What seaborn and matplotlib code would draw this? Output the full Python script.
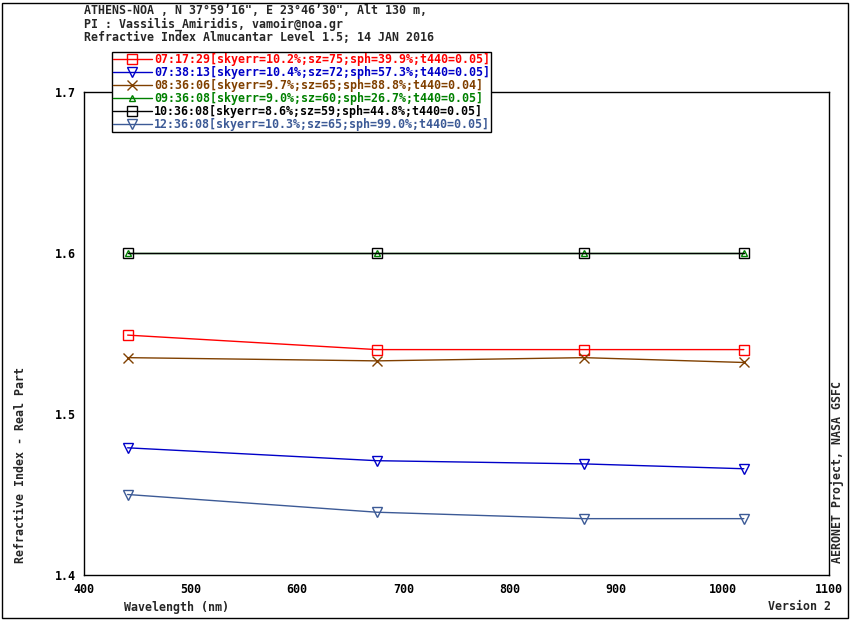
import matplotlib
matplotlib.use("Agg")
import matplotlib.pyplot as plt
import seaborn as sns
import pandas as pd
from matplotlib.patches import Rectangle

# wavelengths (nm)
wavelengths = [441, 675, 870, 1020]

# series labels and values (real part of refractive index)
labels = [
    "07:17:29[skyerr=10.2%;sz=75;sph=39.9%;t440=0.05]",
    "07:38:13[skyerr=10.4%;sz=72;sph=57.3%;t440=0.05]",
    "08:36:06[skyerr=9.7%;sz=65;sph=88.8%;t440=0.04]",
    "09:36:08[skyerr=9.0%;sz=60;sph=26.7%;t440=0.05]",
    "10:36:08[skyerr=8.6%;sz=59;sph=44.8%;t440=0.05]",
    "12:36:08[skyerr=10.3%;sz=65;sph=99.0%;t440=0.05]",
]
n_0717 = [1.549, 1.540, 1.540, 1.540]
n_0738 = [1.479, 1.471, 1.469, 1.466]
n_0836 = [1.535, 1.533, 1.535, 1.532]
n_0936 = [1.600, 1.600, 1.600, 1.600]
n_1036 = [1.600, 1.600, 1.600, 1.600]
n_1236 = [1.450, 1.439, 1.435, 1.435]
series = [n_0717, n_0738, n_0836, n_0936, n_1036, n_1236]

colors = ["#ff0000", "#0000c8", "#804000", "#008000", "#000000", "#3c5a96"]
markers = ["s", "v", "x", "^", "s", "v"]
msizes = [6.5, 6.5, 7, 4, 6.5, 6.5]

sns.set_style("white")
plt.rcParams["font.family"] = ["DejaVu Sans Mono"]
plt.rcParams["font.weight"] = "bold"
fs = 8.4

fig = plt.figure(figsize=(8.5, 6.2), dpi=100)
ax = fig.add_axes([84 / 850, 1 - 575 / 620, (829 - 84) / 850, (575 - 92) / 620])

# draw black squares last so they sit on top of the green triangles
draw_order = [0, 1, 2, 3, 5, 4]
for i in draw_order:
    df = pd.DataFrame({"wl": wavelengths, "n": series[i]})
    sns.lineplot(data=df, x="wl", y="n", ax=ax, color=colors[i], marker=markers[i],
                 markersize=msizes[i], markerfacecolor="none", markeredgecolor=colors[i],
                 markeredgewidth=1.0, linewidth=1.0, label=labels[i],
                 zorder=3 if i != 4 else 4)

ax.set_xlim(400, 1100)
ax.set_ylim(1.4, 1.7)
ax.set_xticks(range(400, 1101, 100))
ax.set_yticks([1.4, 1.5, 1.6, 1.7])
ax.set_yticklabels(["1.4", "1.5", "1.6", "1.7"])
ax.tick_params(axis="x", direction="in", length=9, width=1, pad=6, labelsize=fs, colors="black")
ax.tick_params(axis="y", direction="in", length=5.5, width=1, pad=5.8, labelsize=fs, colors="black")
for lab in ax.get_xticklabels() + ax.get_yticklabels():
    lab.set_fontweight("bold")
for s in ax.spines.values():
    s.set_color("black")
    s.set_linewidth(1.0)
ax.set_xlabel("")
ax.set_ylabel("")

# legend in the reference order
handles, hlabels = ax.get_legend_handles_labels()
order = [hlabels.index(l) for l in labels]
leg = ax.legend([handles[k] for k in order], [hlabels[k] for k in order],
                loc="upper left", bbox_to_anchor=(112 / 850, 1 - 52 / 620),
                bbox_transform=fig.transFigure, fontsize=fs, frameon=True,
                fancybox=False, framealpha=1, edgecolor="black", borderpad=0.1,
                borderaxespad=0, labelspacing=0.0, handlelength=3.3,
                handletextpad=0.2)
leg.get_frame().set_linewidth(1.0)
leg.set_zorder(10)
for t, c in zip(leg.get_texts(), colors):
    t.set_color(c)
    t.set_fontweight("bold")

# header text
header = [
    "ATHENS-NOA , N 37\u00b059\u201916\", E 23\u00b046\u201930\", Alt 130 m,",
    "PI : Vassilis_Amiridis, vamoir@noa.gr",
    "Refractive Index Almucantar Level 1.5; 14 JAN 2016",
]
for k, line in enumerate(header):
    fig.text(84 / 850, 1 - (4 + 13.5 * k) / 620, line, ha="left", va="top",
             fontsize=fs, fontweight="bold")

fig.text(124 / 850, 1 - 607 / 620, "Wavelength (nm)", ha="left", va="center",
         fontsize=fs, fontweight="bold")
fig.text(831 / 850, 1 - 607 / 620, "Version 2", ha="right", va="center",
         fontsize=fs, fontweight="bold")
fig.text(21 / 850, 1 - 563 / 620, "Refractive Index - Real Part", rotation=90,
         ha="center", va="bottom", fontsize=fs, fontweight="bold")
fig.text(837 / 850, 1 - 563 / 620, "AERONET Project, NASA GSFC", rotation=90,
         ha="center", va="bottom", fontsize=fs, fontweight="bold")

# outer border
fig.patches.append(Rectangle((2 / 850, 2 / 620), 846 / 850, 615 / 620,
                             transform=fig.transFigure, fill=False,
                             edgecolor="black", linewidth=1.0))

fig.savefig("out.png", dpi=100)
